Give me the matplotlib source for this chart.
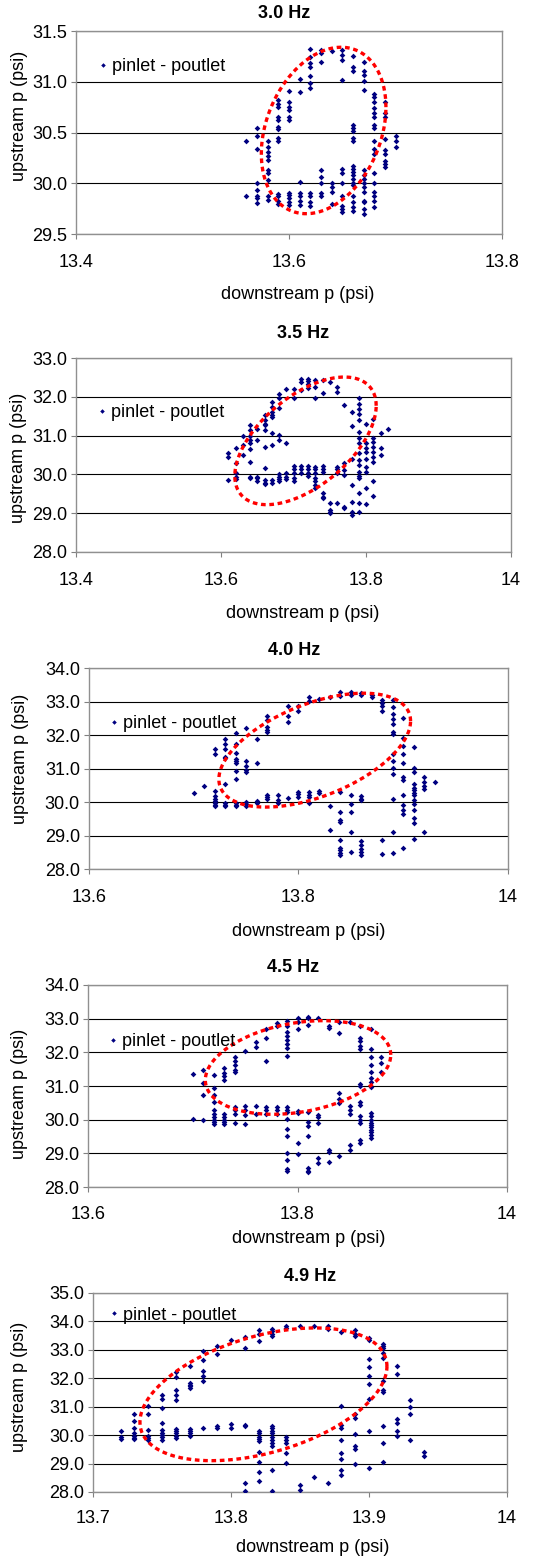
import numpy as np
import matplotlib.pyplot as plt

plt.rcParams['font.family'] = ['Liberation Sans', 'DejaVu Sans']
plt.rcParams['font.size'] = 13

titles = ["3.0 Hz", "3.5 Hz", "4.0 Hz", "4.5 Hz", "4.9 Hz"]
series_label = "pinlet - poutlet"

# downstream pressure columns (psi) and upstream readings taken at each
down_30 = [13.56, 13.57, 13.58, 13.59, 13.60, 13.61, 13.62, 13.63, 13.64,
           13.65, 13.66, 13.67, 13.68, 13.69, 13.70]
up_30 = [
    [30.42, 29.87],
    [30.54, 30.47, 30.34, 30.00, 29.93, 29.87, 29.85, 29.81],
    [30.42, 30.36, 30.31, 30.27, 30.23, 30.13, 30.10, 30.03, 29.87, 29.84],
    [30.82, 30.78, 30.75, 30.65, 30.62, 30.55, 30.53, 30.45, 30.42, 29.89, 29.87, 29.83, 29.80],
    [30.91, 30.80, 30.75, 30.72, 30.65, 30.62, 29.90, 29.88, 29.85, 29.82, 29.79],
    [31.03, 30.90, 30.01, 29.90, 29.87, 29.83, 29.79],
    [31.32, 31.24, 31.18, 31.15, 31.06, 30.99, 30.94, 29.90, 29.87, 29.82, 29.78],
    [31.31, 31.28, 31.19, 30.13, 30.06, 30.00, 29.90, 29.87],
    [31.30, 30.00, 29.96, 29.91, 29.80],
    [31.31, 31.26, 31.21, 31.02, 30.14, 30.10, 30.00, 29.87, 29.78, 29.75, 29.72],
    [31.25, 31.15, 31.11, 30.57, 30.54, 30.51, 30.45, 30.42, 30.17, 30.14, 30.11, 30.08,
     30.04, 30.00, 29.98, 29.87, 29.82, 29.77, 29.73],
    [31.19, 31.11, 31.07, 31.01, 30.92, 30.13, 30.08, 30.04, 30.00, 29.96, 29.91, 29.83,
     29.82, 29.75, 29.70],
    [30.88, 30.85, 30.80, 30.74, 30.69, 30.65, 30.57, 30.54, 30.42, 30.34, 30.29, 30.10,
     30.00, 29.91, 29.87, 29.83, 29.77],
    [30.80, 30.69, 30.65, 30.44, 30.33, 30.29, 30.22, 30.19, 30.16],
    [30.47, 30.42, 30.36],
]

down_35 = [13.61, 13.62, 13.63, 13.64, 13.65, 13.66, 13.67, 13.68, 13.69, 13.70,
           13.71, 13.72, 13.73, 13.74, 13.75, 13.76, 13.77, 13.78, 13.79, 13.80,
           13.81, 13.82, 13.83]
up_35 = [
    [30.56, 30.46, 29.86],
    [30.67, 30.30, 30.03, 29.94, 29.87],
    [30.99, 30.76, 30.50],
    [31.27, 31.14, 30.99, 30.89, 30.82, 30.65, 30.33, 29.94, 29.90],
    [31.18, 30.89, 29.94, 29.90, 29.84],
    [31.53, 31.40, 31.31, 31.27, 31.14, 30.71, 30.16, 29.86, 29.79, 29.76],
    [31.87, 31.74, 31.61, 31.53, 31.47, 31.07, 30.76, 29.86, 29.79],
    [32.08, 31.96, 31.70, 31.01, 30.89, 30.01, 29.94, 29.87, 29.82],
    [32.19, 30.82, 30.03, 29.94, 29.87],
    [32.19, 31.98, 30.22, 30.13, 30.03, 29.90, 29.82],
    [32.47, 32.38, 32.17, 30.22, 30.13, 30.03],
    [32.47, 32.41, 32.34, 32.24, 30.22, 30.13, 30.03, 29.96],
    [32.43, 32.26, 31.96, 30.20, 30.13, 30.03, 29.90, 29.82, 29.73, 29.64],
    [32.43, 32.10, 30.22, 30.13, 30.05, 29.52, 29.43, 29.39],
    [32.38, 29.26, 29.09, 29.04, 29.00],
    [32.26, 32.13, 30.20, 30.13, 30.03, 29.26],
    [31.78, 30.30, 30.11, 29.99, 29.15, 29.13],
    [31.61, 31.24, 30.41, 29.73, 29.30, 29.04, 28.96],
    [31.96, 31.81, 31.68, 31.55, 31.40, 31.10, 30.93, 30.80, 30.54, 30.37, 30.24, 30.07,
     29.96, 29.90, 29.52, 29.26, 29.04],
    [31.31, 30.80, 30.67, 30.59, 30.41, 30.20, 30.07, 29.64, 29.24],
    [31.44, 30.93, 30.84, 30.71, 30.59, 30.46, 30.33, 29.82, 29.45],
    [31.06, 30.67, 30.50],
    [31.18],
]

down_40 = [13.70, 13.71, 13.72, 13.73, 13.74, 13.75, 13.76, 13.77, 13.78, 13.79,
           13.80, 13.81, 13.82, 13.83, 13.84, 13.85, 13.86, 13.87, 13.88, 13.89,
           13.90, 13.91, 13.92, 13.93]
up_40 = [
    [30.27],
    [30.47],
    [31.59, 31.42, 30.33, 30.17, 30.10, 30.03, 29.97, 29.90, 29.87],
    [31.89, 31.74, 31.59, 31.36, 31.32, 30.53, 29.97, 29.90, 29.87],
    [32.06, 31.74, 31.46, 31.29, 31.24, 31.16, 30.93, 30.70, 29.97, 29.90, 29.87],
    [32.22, 31.24, 31.09, 30.95, 30.90, 30.00, 29.93, 29.87],
    [31.89, 31.16, 30.03, 29.97],
    [32.56, 32.44, 32.24, 32.16, 32.09, 30.20, 30.15, 30.10],
    [30.20, 30.05, 29.97],
    [32.86, 32.56, 32.39, 30.13],
    [32.86, 32.71, 30.30, 30.23, 30.15],
    [33.13, 33.03, 30.30, 30.20, 30.15, 29.97],
    [33.08, 30.33, 30.27],
    [33.15, 29.87, 29.17],
    [33.28, 33.18, 30.30, 29.70, 29.45, 29.40, 28.88, 28.64, 28.56, 28.48, 28.41],
    [33.28, 33.21, 30.22, 29.93, 29.69, 29.10, 28.51],
    [33.25, 33.21, 30.17, 30.10, 30.05, 28.84, 28.71, 28.61, 28.51, 28.43],
    [33.21, 33.15],
    [33.05, 32.96, 32.86, 32.71, 28.88, 28.44],
    [33.05, 32.84, 32.64, 32.49, 32.34, 32.09, 32.04, 31.42, 31.24, 31.02, 30.83, 30.08,
     29.10, 28.48],
    [32.52, 31.92, 31.66, 31.44, 31.16, 30.75, 30.67, 30.22, 29.90, 29.75, 29.63, 28.64],
    [31.64, 31.02, 30.90, 30.53, 30.43, 30.37, 30.27, 30.20, 30.05, 29.95, 29.75, 29.53,
     29.37, 28.91],
    [30.75, 30.60, 30.47, 30.40, 29.10],
    [30.60],
]

down_45 = [13.70, 13.71, 13.72, 13.73, 13.74, 13.75, 13.76, 13.77, 13.78, 13.79,
           13.80, 13.81, 13.82, 13.83, 13.84, 13.85, 13.86, 13.87, 13.88]
up_45 = [
    [31.37, 30.03],
    [31.47, 31.09, 30.73, 29.98],
    [31.32, 30.95, 30.73, 30.53, 30.30, 30.18, 30.08, 30.00, 29.93, 29.88],
    [31.52, 31.39, 31.29, 31.17, 30.18, 30.08, 30.00, 29.93, 29.88],
    [31.87, 31.75, 31.62, 31.49, 31.42, 30.38, 30.28, 30.18, 29.90],
    [32.05, 30.40, 30.28, 30.13, 29.88],
    [32.31, 32.16, 30.40, 30.18],
    [32.68, 32.44, 31.75, 30.38, 30.30, 30.18],
    [32.88, 32.78, 30.38, 30.30, 30.18],
    [32.94, 32.78, 32.61, 32.48, 32.36, 32.24, 32.14, 31.89, 30.38, 30.30, 30.23, 30.03,
     29.73, 29.51, 29.01, 28.79, 28.54, 28.47],
    [33.01, 32.91, 32.69, 30.26, 30.20, 29.31, 28.99],
    [33.06, 33.01, 32.81, 30.23, 29.93, 29.80, 29.53, 28.57, 28.49, 28.44],
    [33.01, 30.13, 30.08, 29.90, 28.87, 28.71],
    [32.78, 32.71, 29.09, 29.04, 28.74],
    [32.91, 32.56, 30.80, 30.60, 30.50, 28.91],
    [32.91, 30.40, 30.30, 30.18, 29.24, 29.11],
    [32.78, 32.44, 32.34, 32.18, 32.09, 31.05, 30.99, 30.53, 30.43, 30.10, 30.00, 29.90,
     29.41, 29.31],
    [32.68, 32.09, 31.87, 31.62, 31.42, 31.25, 31.12, 30.97, 30.20, 30.10, 30.00, 29.90,
     29.83, 29.78, 29.70, 29.63, 29.54, 29.47],
    [31.87, 31.67, 31.42],
]

down_49 = [13.72, 13.73, 13.74, 13.75, 13.76, 13.77, 13.78, 13.79, 13.80, 13.81,
           13.82, 13.83, 13.84, 13.85, 13.86, 13.87, 13.88, 13.89, 13.90, 13.91,
           13.92, 13.93, 13.94]
up_49 = [
    [30.13, 29.95, 29.86],
    [30.75, 30.48, 30.25, 30.07, 29.98, 29.89, 29.86],
    [31.01, 30.75, 30.19, 29.98, 29.89, 29.84],
    [31.42, 31.27, 30.95, 30.42, 30.19, 30.09, 30.01, 29.93, 29.84],
    [32.21, 32.04, 31.60, 31.42, 31.22, 30.21, 30.13, 30.07, 29.98, 29.89],
    [32.44, 31.85, 31.77, 31.71, 31.65, 30.21, 30.13, 30.07, 29.98],
    [32.95, 32.65, 32.24, 32.07, 31.89, 30.25],
    [33.15, 32.86, 30.33, 30.25],
    [33.33, 30.40, 30.25],
    [33.45, 33.06, 30.36, 30.31, 28.31, 28.02],
    [33.69, 33.57, 33.30, 30.16, 30.07, 29.95, 29.86, 29.78, 29.42, 29.07, 28.69, 28.37],
    [33.73, 33.65, 33.57, 33.47, 30.33, 30.25, 30.16, 30.07, 29.95, 29.84, 29.72, 29.60,
     28.76, 28.02],
    [33.83, 33.77, 29.95, 29.84, 29.72, 29.37, 29.01],
    [33.85, 28.25, 28.08],
    [33.85, 28.54],
    [33.85, 33.73, 28.33],
    [33.62, 31.01, 30.36, 30.25, 29.84, 29.37, 29.15, 28.76, 28.60],
    [33.69, 33.57, 33.47, 30.75, 30.60, 30.05, 29.60, 29.51, 28.99],
    [33.42, 33.33, 32.68, 32.39, 32.09, 31.81, 31.27, 30.13, 28.84],
    [33.22, 33.15, 33.06, 32.89, 32.71, 31.89, 31.57, 31.50, 30.31, 29.72, 29.04],
    [32.44, 32.16, 30.56, 30.42, 30.13, 29.98],
    [31.24, 30.99, 30.75, 29.84],
    [29.42, 29.27],
]

downs = [down_30, down_35, down_40, down_45, down_49]
ups = [up_30, up_35, up_40, up_45, up_49]

# axis ranges and ticks
x_ranges = [(13.4, 13.8), (13.4, 14.0), (13.6, 14.0), (13.6, 14.0), (13.7, 14.0)]
x_ticks = [[13.4, 13.6, 13.8], [13.4, 13.6, 13.8, 14.0], [13.6, 13.8, 14.0],
           [13.6, 13.8, 14.0], [13.7, 13.8, 13.9, 14.0]]
x_ticklabels = [["13.4", "13.6", "13.8"], ["13.4", "13.6", "13.8", "14"],
                ["13.6", "13.8", "14"], ["13.6", "13.8", "14"],
                ["13.7", "13.8", "13.9", "14"]]
y_ranges = [(29.5, 31.5), (28.0, 33.0), (28.0, 34.0), (28.0, 34.0), (28.0, 35.0)]
y_steps = [0.5, 1.0, 1.0, 1.0, 1.0]

# hand-drawn loop around each cycle: centre, half-widths, tilt
loops = [(13.6325, 30.52, 0.0585, 0.82, 0.28),
         (13.7165, 30.865, 0.0975, 1.645, 0.55),
         (13.8155, 31.55, 0.0915, 1.70, 0.51),
         (13.8005, 31.55, 0.0885, 1.39, 0.27),
         (13.8235, 31.435, 0.0895, 2.335, 0.42)]

# layout (figure fractions / axes fractions)
boxes = [(0.1413, 0.8498, 0.7918, 0.1303),
         (0.1413, 0.6457, 0.8086, 0.1245),
         (0.1654, 0.4422, 0.7788, 0.1290),
         (0.1636, 0.2381, 0.7788, 0.1297),
         (0.1729, 0.0424, 0.7695, 0.1277)]
title_pos = [(0.488, 1.084), (0.522, 1.129), (0.489, 1.085), (0.489, 1.084), (0.524, 1.085)]
xlabel_pos = [(0.52, -0.256), (0.52, -0.273), (0.525, -0.269), (0.527, -0.213), (0.53, -0.236)]
ylabel_pos = [(-0.113, 0.58), (-0.113, 0.485), (-0.143, 0.547), (-0.143, 0.46), (-0.157, 0.528)]
legend_pos = [(0.053, 0.823), (0.049, 0.718), (0.049, 0.723), (0.049, 0.718), (0.040, 0.888)]
x_pads = [11, 11, 11, 10, 9.5]

fig = plt.figure(figsize=(5.38, 15.58), dpi=100)

for i in range(5):
    ax = fig.add_axes(boxes[i])

    xs, ys = [], []
    for col, vals in zip(downs[i], ups[i]):
        xs += [col] * len(vals)
        ys += vals
    ax.plot(xs, ys, ls='none', marker='D', ms=2.9, mew=0, color='#000080',
            label=series_label, zorder=3)

    cx, cy, rx, ry, tilt = loops[i]
    t = np.linspace(0, 2 * np.pi, 300)
    phi = np.arcsin(tilt)
    ax.plot(cx + rx * np.cos(t), cy + ry * np.sin(t + phi), color='#ff0000',
            lw=2.4, ls=(0, (1.4, 1.1)), zorder=4)

    ax.set_xlim(*x_ranges[i])
    ax.set_ylim(*y_ranges[i])
    ax.set_xticks(x_ticks[i])
    ax.set_xticklabels(x_ticklabels[i])
    y0, y1 = y_ranges[i]
    yt = np.arange(y0, y1 + 1e-9, y_steps[i])
    ax.set_yticks(yt)
    ax.set_yticklabels([f"{v:.1f}" for v in yt])

    ax.yaxis.grid(True, color='black', lw=0.8)
    ax.set_axisbelow(True)
    for sp in ax.spines.values():
        sp.set_color('#909090')
        sp.set_linewidth(1.0)
    ax.tick_params(direction='out', length=3.5, width=0.8, color='#808080',
                   labelsize=13)
    ax.tick_params(axis='x', pad=x_pads[i])
    ax.tick_params(axis='y', pad=3)

    ax.text(title_pos[i][0], title_pos[i][1], titles[i], transform=ax.transAxes,
            ha='center', va='center', fontsize=13, fontweight='bold')
    ax.set_xlabel("downstream p (psi)", fontsize=13)
    ax.xaxis.set_label_coords(*xlabel_pos[i])
    ax.set_ylabel("upstream p (psi)", fontsize=13)
    ax.yaxis.set_label_coords(*ylabel_pos[i])

    ax.legend(loc='center left', bbox_to_anchor=legend_pos[i], frameon=False,
              handlelength=0.5, handletextpad=0.25, borderpad=0, borderaxespad=0,
              fontsize=13, markerscale=0.8)

fig.savefig("out.png", dpi=100)
